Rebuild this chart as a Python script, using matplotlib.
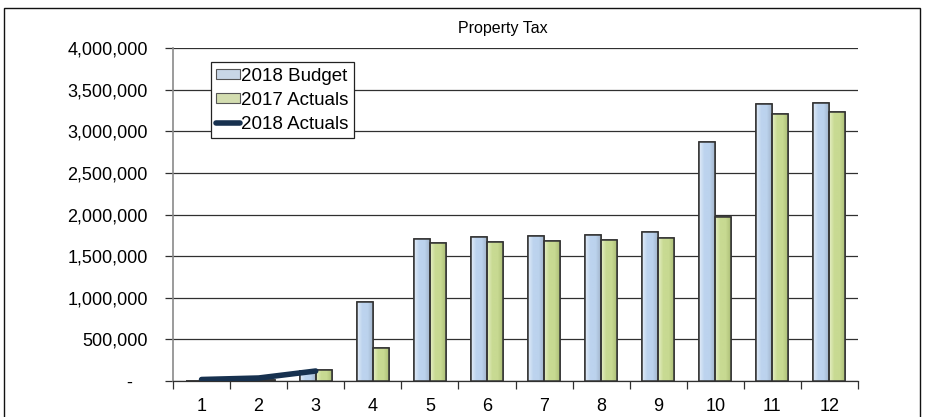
import numpy as np
import matplotlib
matplotlib.use("Agg")
import matplotlib.pyplot as plt
from matplotlib.patches import Rectangle
from matplotlib.colors import LinearSegmentedColormap
from matplotlib.ticker import FuncFormatter, MultipleLocator, FixedLocator

plt.rcParams["font.family"] = ["Liberation Sans", "DejaVu Sans"]

# 月份与数据
months = list(range(1, 13))
budget_2018 = [2000, 10000, 125000, 952000, 1706000, 1726000, 1738000,
               1750000, 1786000, 2867000, 3327000, 3343000]
actuals_2017 = [2000, 10000, 130000, 400000, 1658000, 1666000, 1678000,
                1690000, 1714000, 1974000, 3207000, 3235000]
actuals_2018 = [18000, 36000, 120000]

BLUE = "#bcd3ee"
BLUE_HI = "#e2ecf8"
GREEN = "#c8da92"
GREEN_HI = "#e6efc6"
EDGE = "#333333"
LINE = "#17314f"

BAR_W = 0.28


def gradient_bars(ax, xs, heights, base, hi, dark):
    """画带横向渐变的柱子（左亮右暗），外框深灰。"""
    cmap = LinearSegmentedColormap.from_list("g", [hi, base, base, dark])
    grad = np.linspace(0, 1, 64).reshape(1, -1)
    bars = ax.bar(xs, heights, width=BAR_W, color=base, edgecolor=EDGE,
                  linewidth=1.1, zorder=3)
    for rect in bars:
        x0, y0 = rect.get_x(), rect.get_y()
        w, h = rect.get_width(), rect.get_height()
        im = ax.imshow(grad, cmap=cmap, aspect="auto", interpolation="bicubic",
                       extent=(x0, x0 + w, y0, y0 + h), zorder=3.1)
        im.set_clip_path(rect)
        # 外框再画一次盖在渐变上
        ax.add_patch(Rectangle((x0, y0), w, h, fill=False, edgecolor=EDGE,
                               linewidth=1.1, zorder=3.2))
    return bars


fig = plt.figure(figsize=(9.25, 4.17), dpi=100)
ax = fig.add_axes([173 / 925, 36 / 417, 685 / 925, 333 / 417])

x = np.array(months, dtype=float)
gradient_bars(ax, x - BAR_W / 2, budget_2018, BLUE, BLUE_HI, "#a3b6cc")
gradient_bars(ax, x + BAR_W / 2, actuals_2017, GREEN, GREEN_HI, "#adbf78")
ax.plot(months[:len(actuals_2018)], actuals_2018, color=LINE, lw=4.0,
        solid_capstyle="round", solid_joinstyle="round", zorder=5)

ax.set_xlim(0.5, 12.5)
ax.set_ylim(0, 4000000)
ax.yaxis.set_major_locator(MultipleLocator(500000))
ax.yaxis.set_major_formatter(FuncFormatter(lambda v, p: "-   " if v == 0 else f"{v:,.0f}"))
ax.grid(axis="y", color="#303030", lw=0.9, zorder=0)
ax.set_axisbelow(True)

# x 轴：刻度线在类别之间，标签在类别中心
ax.xaxis.set_major_locator(FixedLocator(np.arange(0.5, 13, 1)))
ax.xaxis.set_major_formatter(FuncFormatter(lambda v, p: ""))
ax.xaxis.set_minor_locator(FixedLocator(x))
ax.set_xticklabels([str(m) for m in months], minor=True)
ax.tick_params(axis="x", which="major", length=6, width=0.9, color="#303030")
ax.tick_params(axis="x", which="minor", length=0, pad=12, labelsize=13)
ax.tick_params(axis="y", length=6, width=0.9, color="#303030", pad=12, labelsize=13)

for side in ("top", "right"):
    ax.spines[side].set_visible(False)
ax.spines["left"].set_color("#8a8a8a")
ax.spines["left"].set_linewidth(1.2)
ax.spines["bottom"].set_color("#303030")
ax.spines["bottom"].set_linewidth(0.9)

handles = [Rectangle((0, 0), 1, 1, facecolor="#c8d6e6", edgecolor="#555555", lw=0.8),
           Rectangle((0, 0), 1, 1, facecolor="#d3ddb0", edgecolor="#555555", lw=0.8),
           plt.Line2D([0], [0], color=LINE, lw=4.0, solid_capstyle="round")]
leg = ax.legend(handles, ["2018 Budget", "2017 Actuals", "2018 Actuals"],
                loc="upper left", bbox_to_anchor=(0.055, 0.958), fontsize=13.5,
                frameon=True, fancybox=False, framealpha=1, edgecolor="#222222",
                borderpad=0.3, labelspacing=0.38, handlelength=1.25,
                handleheight=0.5, handletextpad=0.05, borderaxespad=0)
leg.get_frame().set_linewidth(0.9)

fig.text(503 / 925, 1 - 28 / 417, "Property Tax", ha="center", va="center", fontsize=11.5)

# 外框
fig.add_artist(Rectangle((4 / 925, -0.02), 916 / 925, 1.02 - 8 / 417,
                         transform=fig.transFigure, fill=False,
                         edgecolor="#111111", lw=1.0))

fig.savefig("out.png", dpi=100)
